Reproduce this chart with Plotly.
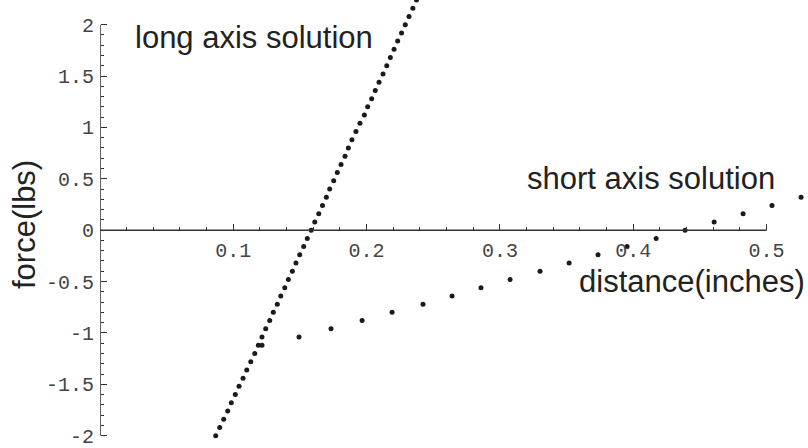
import plotly.graph_objects as go

# ---- data ----
long_force = [-2.00, -1.92, -1.84, -1.76, -1.68, -1.60, -1.52, -1.44, -1.36, -1.28,
              -1.20, -1.12, -1.04, -0.96, -0.88, -0.80, -0.72, -0.64, -0.56, -0.48,
              -0.40, -0.32, -0.24, -0.16, -0.08, 0.00, 0.08, 0.16, 0.24, 0.32,
              0.40, 0.48, 0.56, 0.64, 0.72, 0.80, 0.88, 0.96, 1.04, 1.12,
              1.20, 1.28, 1.36, 1.44, 1.52, 1.60, 1.68, 1.76, 1.84, 1.92,
              2.00, 2.08, 2.16, 2.24]
long_dist = [0.0868, 0.0898, 0.0928, 0.0958, 0.0985, 0.1015, 0.1043, 0.1073, 0.1101, 0.1131,
             0.1161, 0.1188, 0.1215, 0.1243, 0.1273, 0.1300, 0.1330, 0.1356, 0.1386, 0.1413,
             0.1443, 0.1470, 0.1498, 0.1528, 0.1555, 0.1584, 0.1611, 0.1641, 0.1669, 0.1698,
             0.1723, 0.1753, 0.1780, 0.1808, 0.1838, 0.1863, 0.1890, 0.1920, 0.1950, 0.1983,
             0.2008, 0.2038, 0.2065, 0.2093, 0.2123, 0.2151, 0.2178, 0.2206, 0.2233, 0.2262,
             0.2290, 0.2318, 0.2347, 0.2374]

short_force = [-1.12, -1.04, -0.96, -0.88, -0.80, -0.72, -0.64, -0.56, -0.48, -0.40,
               -0.32, -0.24, -0.16, -0.08, 0.00, 0.08, 0.16, 0.24, 0.32]
short_dist = [0.1215, 0.1493, 0.1733, 0.1966, 0.2191, 0.2423, 0.2641, 0.2858, 0.3076, 0.3301,
              0.3519, 0.3736, 0.3954, 0.4172, 0.4389, 0.4607, 0.4824, 0.5041, 0.5259]

x_tickvals = [0.1, 0.2, 0.3, 0.4, 0.5]
x_ticktext = ["0.1", "0.2", "0.3", "0.4", "0.5"]
x_minorvals = [0.02, 0.04, 0.06, 0.08, 0.12, 0.14, 0.16, 0.18, 0.22, 0.24, 0.26, 0.28,
               0.32, 0.34, 0.36, 0.38, 0.42, 0.44, 0.46, 0.48]
y_tickvals = [-2, -1.5, -1, -0.5, 0, 0.5, 1, 1.5, 2]
y_ticktext = ["-2", "-1.5", "-1", "-0.5", "0", "0.5", "1", "1.5", "2"]
y_minorvals = [-1.9, -1.8, -1.7, -1.6, -1.4, -1.3, -1.2, -1.1, -0.9, -0.8, -0.7, -0.6,
               -0.4, -0.3, -0.2, -0.1, 0.1, 0.2, 0.3, 0.4, 0.6, 0.7, 0.8, 0.9,
               1.1, 1.2, 1.3, 1.4, 1.6, 1.7, 1.8, 1.9]

XMIN, XMAX = 0.0, 0.5311
YMIN, YMAX = -2.12, 2.24
AX = "#333333"
DOT = "#1a1a1a"
TXT = "#222222"
MONO = "Liberation Mono, Courier New, monospace"
SANS = "Liberation Sans, Arial, Helvetica, sans-serif"

fig = go.Figure()
fig.add_trace(go.Scatter(x=long_dist, y=long_force, mode="markers",
                         marker=dict(size=5, color=DOT), showlegend=False,
                         cliponaxis=True))
fig.add_trace(go.Scatter(x=short_dist, y=short_force, mode="markers",
                         marker=dict(size=5, color=DOT), showlegend=False,
                         cliponaxis=True))

# axis lines (Mathematica style: through origin, limited extent)
fig.add_shape(type="line", x0=0, x1=0.5, y0=0, y1=0, xref="x", yref="y",
              line=dict(color=AX, width=1.5), layer="above")
fig.add_shape(type="line", x0=0, x1=0, y0=-2, y1=2, xref="x", yref="y",
              line=dict(color=AX, width=1.5), layer="above")

fig.update_layout(
    width=808, height=448,
    margin=dict(l=100, r=0, t=0, b=0),
    paper_bgcolor="white", plot_bgcolor="white",
    xaxis=dict(range=[XMIN, XMAX], domain=[0, 1], anchor="free",
               position=(0 - YMIN) / (YMAX - YMIN),
               showgrid=False, zeroline=False, showline=False,
               tickmode="array", tickvals=x_tickvals, ticktext=x_ticktext,
               ticks="inside", ticklen=6, tickwidth=1.2, tickcolor=AX,
               ticklabelstandoff=6, ticklabeloverflow="allow",
               tickfont=dict(family=MONO, size=20, color="#444444"),
               minor=dict(tickmode="array", tickvals=x_minorvals, ticks="inside",
                          ticklen=3, tickwidth=1, tickcolor=AX, showgrid=False)),
    yaxis=dict(range=[YMIN, YMAX], domain=[0, 1], anchor="free", position=0,
               showgrid=False, zeroline=False, showline=False,
               tickmode="array", tickvals=y_tickvals, ticktext=y_ticktext,
               ticks="inside", ticklen=6, tickwidth=1.2, tickcolor=AX,
               ticklabelstandoff=6, ticklabeloverflow="allow",
               tickfont=dict(family=MONO, size=20, color="#444444"),
               minor=dict(tickmode="array", tickvals=y_minorvals, ticks="inside",
                          ticklen=3, tickwidth=1, tickcolor=AX, showgrid=False)),
    annotations=[
        dict(text="long axis solution", xref="paper", yref="paper",
             x=(253.5 - 100) / 708, y=1 - 37.5 / 448, xanchor="center", yanchor="middle",
             showarrow=False, font=dict(family=SANS, size=31, color=TXT)),
        dict(text="short axis solution", xref="paper", yref="paper",
             x=(650.5 - 100) / 708, y=1 - 178 / 448, xanchor="center", yanchor="middle",
             showarrow=False, font=dict(family=SANS, size=31, color=TXT)),
        dict(text="distance(inches)", xref="paper", yref="paper",
             x=(691.5 - 100) / 708, y=1 - 281 / 448, xanchor="center", yanchor="middle",
             showarrow=False, font=dict(family=SANS, size=31, color=TXT)),
        dict(text="force(lbs)", xref="paper", yref="paper",
             x=(24 - 100) / 708, y=1 - 225 / 448, xanchor="center", yanchor="middle",
             textangle=-90,
             showarrow=False, font=dict(family=SANS, size=31, color=TXT)),
    ],
)

fig.write_html("out.html")
